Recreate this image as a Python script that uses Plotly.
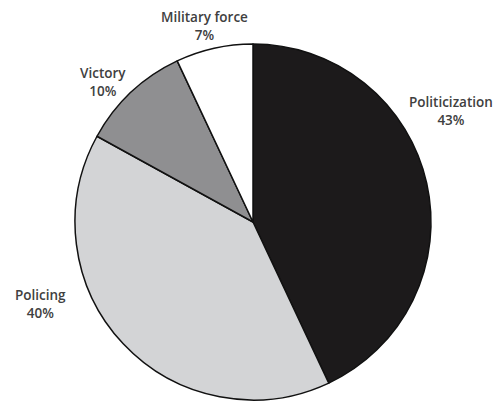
import plotly.graph_objects as go

labels = ["Politicization", "Policing", "Victory", "Military force"]
values = [43, 40, 10, 7]
colors = ["#1c1a1b", "#d3d4d6", "#8f8f91", "#ffffff"]
# label anchor positions (pixel coords in 502x404 canvas, from top-left)
label_pos = [(451, 111), (40, 304), (103, 82), (204, 26)]

W, H = 502, 404

fig = go.Figure(go.Pie(
    labels=labels,
    values=values,
    sort=False,
    direction="clockwise",
    rotation=0,
    marker=dict(colors=colors, line=dict(color="#111111", width=1.5)),
    textinfo="none",
    hoverinfo="label+percent",
    showlegend=False,
    domain=dict(x=[(253 - 178) / W, (253 + 178) / W], y=[(182 - 178) / H, (182 + 178) / H]),
))

for lab, val, (px, py) in zip(labels, values, label_pos):
    fig.add_annotation(
        x=px / W, y=1 - py / H, xref="paper", yref="paper",
        text=f"{lab}<br>{val}%", showarrow=False,
        font=dict(family="Open Sans", size=13.5, color="#404040", weight=600),
        align="center", xanchor="center", yanchor="middle",
    )

fig.update_layout(
    width=W, height=H,
    margin=dict(l=0, r=0, t=0, b=0),
    paper_bgcolor="white", plot_bgcolor="white",
)

fig.write_html("out.html")
